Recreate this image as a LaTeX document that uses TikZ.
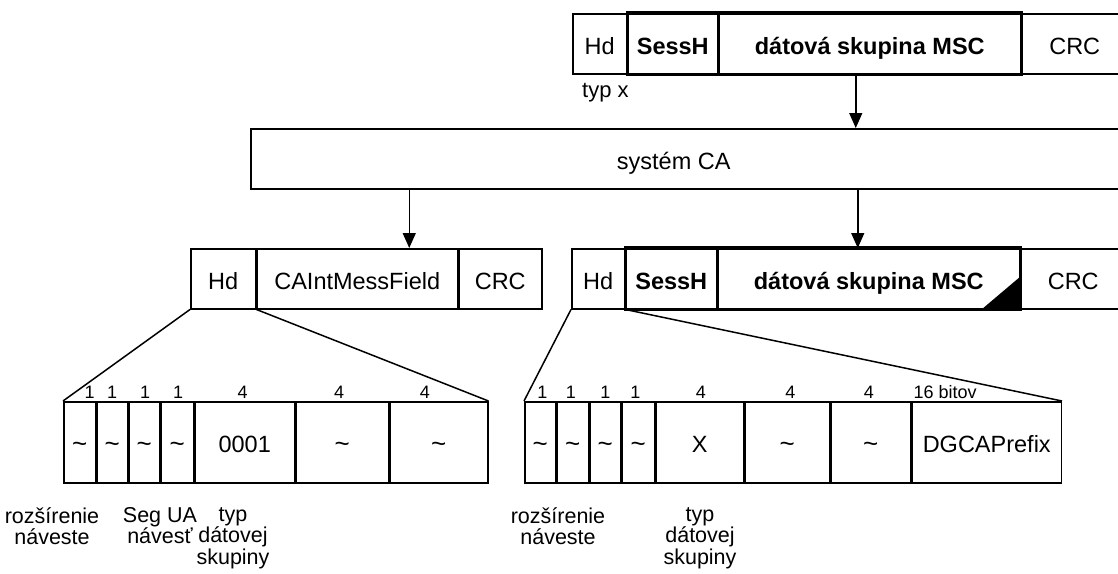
\documentclass[tikz,border=0pt]{standalone}
\usepackage{fontspec}
\setmainfont{Liberation Sans}
\usetikzlibrary{calc, arrows.meta}

\newcommand{\vlnka}{{\fontsize{26}{26}\selectfont\textasciitilde}}

\tikzset{
  fld/.style={draw, line width=1.5pt, anchor=north west, inner sep=0pt,
    minimum height=60pt, text height=21pt, text depth=0pt,
    font=\fontsize{23.5}{27}\selectfont},
  bitfld/.style={fld, minimum height=81pt},
  bold/.style={font=\fontsize{23.5}{27}\selectfont\bfseries},
  thickbox/.style={line width=3.5pt},
  arr/.style={line width=1.5pt, -{Triangle[length=15pt,width=13pt]}},
  fan/.style={line width=1.5pt},
  bits/.style={inner sep=0pt, font=\fontsize{18}{20}\selectfont},
  lbl/.style={inner sep=0pt, anchor=north, align=center,
    font=\fontsize{21.5}{21.5}\selectfont},
}

\begin{document}
\begin{tikzpicture}[x=1pt, y=-1pt]
	\useasboundingbox (0,0) rectangle (1118,573);
	% vstupny ramec
	\node[fld, minimum width=54pt] (hd) at (572,13) {Hd};
	\node[fld, bold, minimum width=89pt] (sh) at (hd.north east) {SessH};
	\node[fld, bold, minimum width=302pt] (msc) at (sh.north east) {dátová skupina MSC};
	\node[fld, minimum width=105pt] (crc) at (msc.north east) {CRC};
	\draw[thickbox] (sh.north west) rectangle (msc.south east);
	\node[anchor=west, inner sep=0pt, font=\fontsize{22}{26}\selectfont] (typx) at (582,93) {typ x};
	% system CA
	\node[fld, minimum width=880pt] (sys) at (250,128) {\hspace*{-34pt}systém CA};
	\coordinate (ain) at ([xshift=-14pt]msc.south);
	\draw[arr] (ain) -- (ain |- sys.north);
	% vystup vlavo
	\node[fld, minimum width=65pt] (hdl) at (190,248) {Hd};
	\node[fld, minimum width=200pt] (cai) at (hdl.north east) {CAIntMessField};
	\node[fld, minimum width=83pt] (crcl) at (cai.north east) {CRC};
	% vystup vpravo
	\node[fld, minimum width=53pt] (hdr) at (571,248) {Hd};
	\node[fld, bold, minimum width=90pt] (shr) at (hdr.north east) {SessH};
	\node[fld, bold, minimum width=302pt] (mscr) at (shr.north east) {dátová skupina MSC};
	\node[fld, minimum width=104pt] (crcr) at (mscr.north east) {CRC};
	\draw[thickbox] (shr.north west) rectangle (mscr.south east);
	\fill (mscr.south east) -- ++(-39,0) -- ++(39,-33) -- cycle;
	\coordinate (aleft) at ([xshift=52pt]cai.north);
	\draw[arr] (aleft |- sys.south) -- (aleft);
	\coordinate (aright) at ([xshift=-11pt]mscr.north);
	\draw[arr] (aright |- sys.south) -- (aright);
	% bity vlavo
	\node[bitfld, minimum width=32pt] (fl1) at (63,401) {\vlnka};
	\node[bitfld, minimum width=30pt] (fl2) at (fl1.north east) {\vlnka};
	\node[bitfld, minimum width=31pt] (fl3) at (fl2.north east) {\vlnka};
	\node[bitfld, minimum width=32pt] (fl4) at (fl3.north east) {\vlnka};
	\node[bitfld, minimum width=100pt] (fl5) at (fl4.north east) {0001};
	\node[bitfld, minimum width=92pt] (fl6) at (fl5.north east) {\vlnka};
	\node[bitfld, minimum width=98pt] (fl7) at (fl6.north east) {\vlnka};
	\draw[fan] (hdl.south west) -- (fl1.north west);
	\draw[fan] (hdl.south east) -- (fl7.north east);
	\node[bits] (bl1) at ([xshift=10pt,yshift=9pt]fl1.north) {1};
	\node[bits] (bl2) at ([yshift=9pt]fl2.north) {1};
	\node[bits] (bl3) at ([xshift=1pt,yshift=9pt]fl3.north) {1};
	\node[bits] (bl4) at ([xshift=1pt,yshift=9pt]fl4.north) {1};
	\node[bits] (bl5) at ([xshift=-2pt,yshift=9pt]fl5.north) {4};
	\node[bits] (bl6) at ([xshift=-3pt,yshift=9pt]fl6.north) {4};
	\node[bits] (bl7) at ([xshift=-14pt,yshift=9pt]fl7.north) {4};
	\node[lbl] (ll1) at (52,507) {rozšírenie\\náveste};
	\node[lbl] (ll2) at (160,507) {Seg UA\\návesť};
	\node[lbl] (ll3) at (233,507) {typ\\dátovej\\skupiny};
	% bity vpravo
	\node[bitfld, minimum width=31pt] (fr1) at (524,401) {\vlnka};
	\node[bitfld, minimum width=31pt] (fr2) at (fr1.north east) {\vlnka};
	\node[bitfld, minimum width=31pt] (fr3) at (fr2.north east) {\vlnka};
	\node[bitfld, minimum width=32pt] (fr4) at (fr3.north east) {\vlnka};
	\node[bitfld, minimum width=88pt] (fr5) at (fr4.north east) {X};
	\node[bitfld, minimum width=84pt] (fr6) at (fr5.north east) {\vlnka};
	\node[bitfld, minimum width=80pt] (fr7) at (fr6.north east) {\vlnka};
	\node[bitfld, minimum width=149pt] (fr8) at (fr7.north east) {DGCAPrefix};
	\draw[fan] (hdr.south west) -- (fr1.north west);
	\draw[fan] (shr.south west) -- (fr8.north east);
	\node[bits] (br1) at ([xshift=2pt,yshift=9pt]fr1.north) {1};
	\node[bits] (br2) at ([xshift=-2pt,yshift=9pt]fr2.north) {1};
	\node[bits] (br3) at ([yshift=9pt]fr3.north) {1};
	\node[bits] (br4) at ([xshift=-3pt,yshift=9pt]fr4.north) {1};
	\node[bits] (br5) at ([xshift=1pt,yshift=9pt]fr5.north) {4};
	\node[bits] (br6) at ([xshift=3pt,yshift=9pt]fr6.north) {4};
	\node[bits] (br7) at ([xshift=-2pt,yshift=9pt]fr7.north) {4};
	\node[bits, anchor=west] (br8) at ([xshift=2pt,yshift=9pt]fr8.north west) {16 bitov};
	\node[lbl] (lr1) at (558,507) {rozšírenie\\náveste};
	\node[lbl] (lr2) at (700,507) {typ\\dátovej\\skupiny};
\end{tikzpicture}
\end{document}
